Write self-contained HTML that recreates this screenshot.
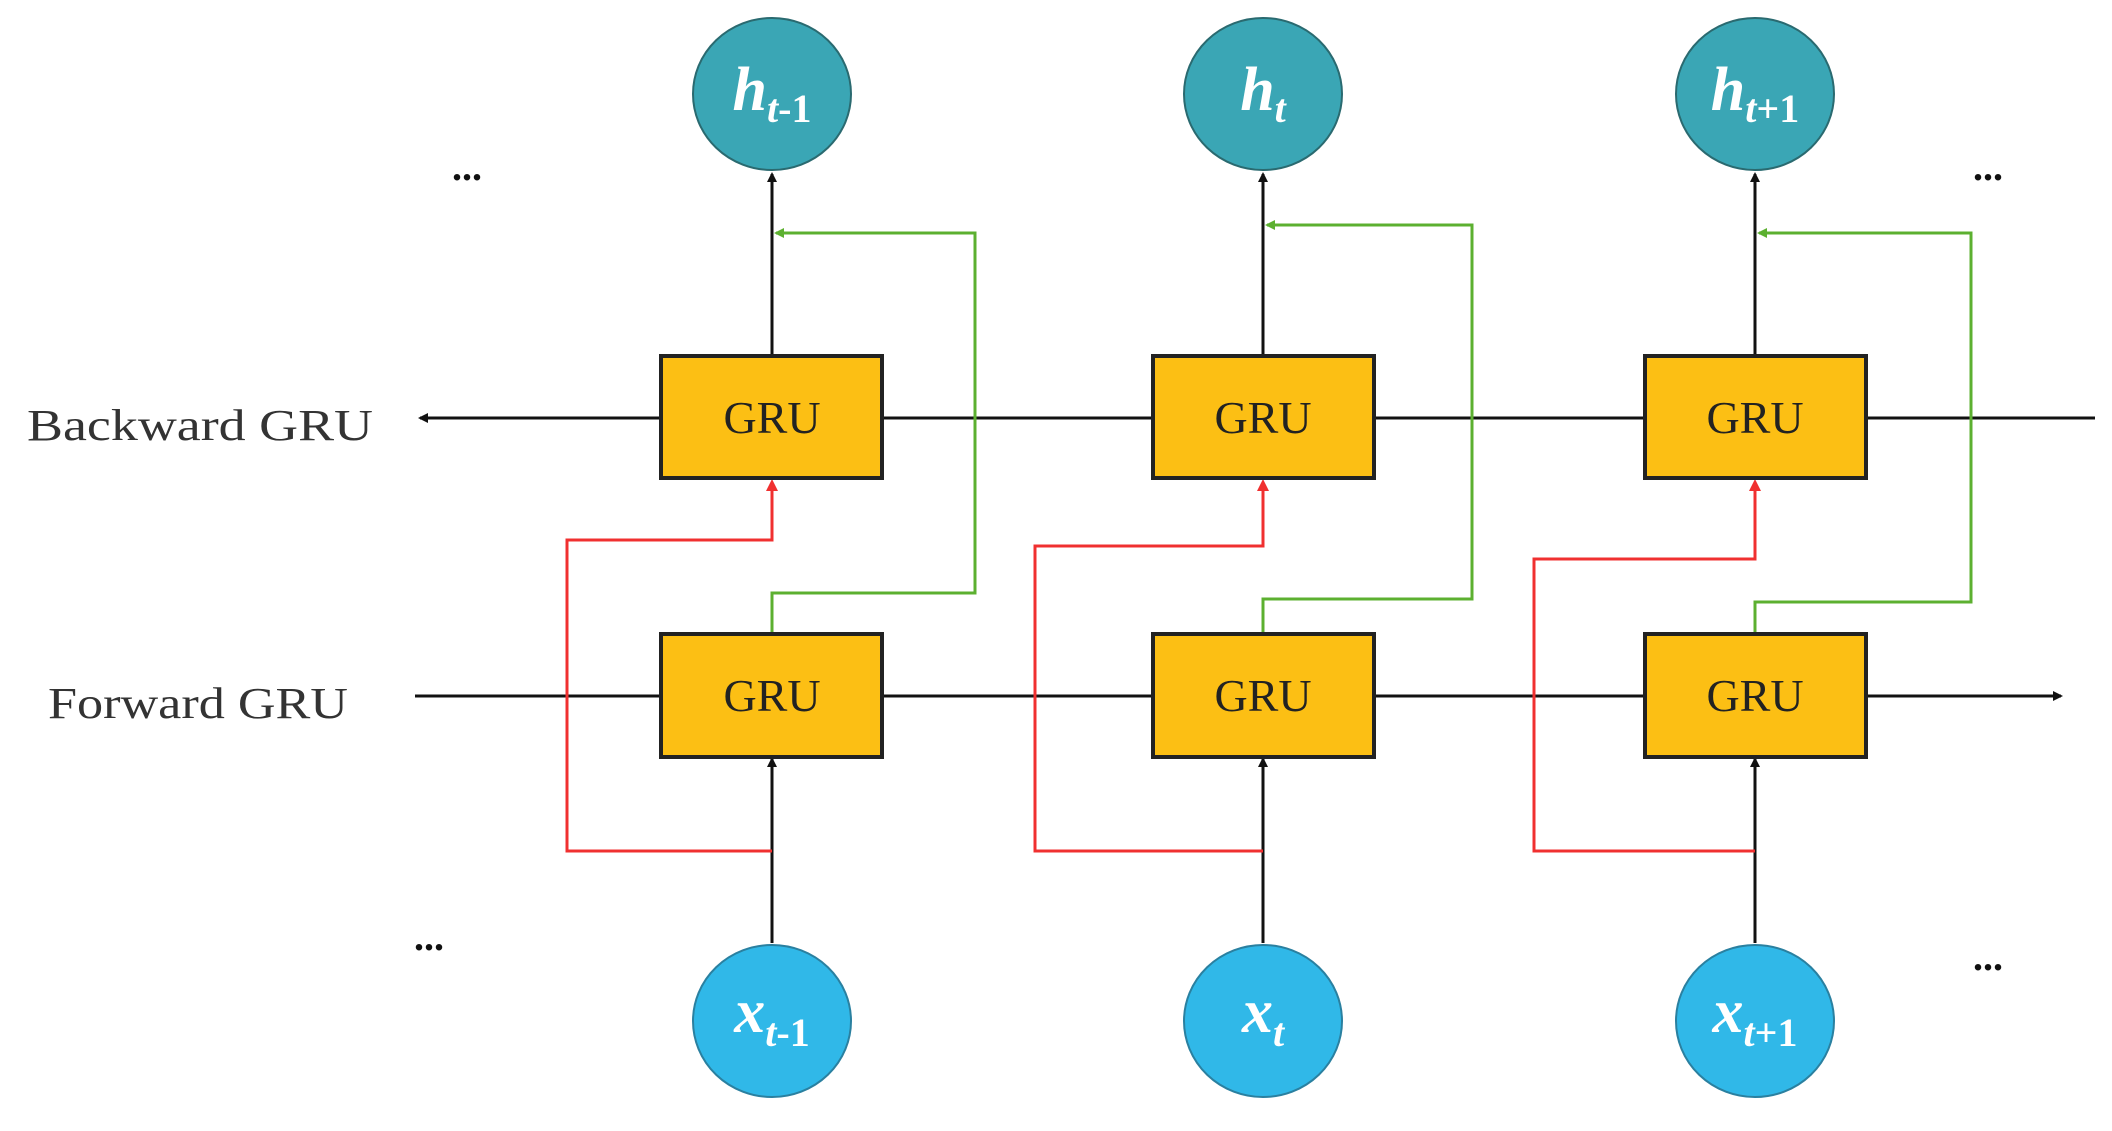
<!DOCTYPE html>
<html><head><meta charset="utf-8"><style>html,body{margin:0;padding:0;background:#fff}</style></head>
<body>
<svg width="2112" height="1126" viewBox="0 0 2112 1126" xmlns="http://www.w3.org/2000/svg" font-family="Liberation Serif, serif">
<defs>
<marker id="ak" markerWidth="10" markerHeight="10" refX="8" refY="5" orient="auto" markerUnits="userSpaceOnUse"><path d="M0,0 L10,5 L0,10 z" fill="#111"/></marker>
<marker id="ag" markerWidth="12" markerHeight="10" refX="8" refY="5" orient="auto" markerUnits="userSpaceOnUse"><path d="M0,0 L10,5 L0,10 z" fill="#5cb030"/></marker>
<marker id="ar" markerWidth="12" markerHeight="12" refX="9" refY="6" orient="auto" markerUnits="userSpaceOnUse"><path d="M0,0 L12,6 L0,12 z" fill="#f03030"/></marker>
</defs>
<g stroke="#111" stroke-width="3" fill="none">
<line x1="2095" y1="418" x2="420" y2="418" marker-end="url(#ak)"/>
<line x1="415" y1="696" x2="2061" y2="696" marker-end="url(#ak)"/>
<line x1="772" y1="356" x2="772" y2="174" marker-end="url(#ak)"/>
<line x1="1263" y1="356" x2="1263" y2="174" marker-end="url(#ak)"/>
<line x1="1755" y1="356" x2="1755" y2="174" marker-end="url(#ak)"/>
<line x1="772" y1="943" x2="772" y2="759" marker-end="url(#ak)"/>
<line x1="1263" y1="943" x2="1263" y2="759" marker-end="url(#ak)"/>
<line x1="1755" y1="943" x2="1755" y2="759" marker-end="url(#ak)"/>
</g>
<g stroke="#f03030" stroke-width="3" fill="none">
<polyline points="772,851 567,851 567,540 772,540 772,482" marker-end="url(#ar)"/>
<polyline points="1263,851 1035,851 1035,546 1263,546 1263,482" marker-end="url(#ar)"/>
<polyline points="1755,851 1534,851 1534,559 1755,559 1755,482" marker-end="url(#ar)"/>
</g>
<g stroke="#5cb030" stroke-width="3" fill="none">
<polyline points="772,633 772,593 975,593 975,233 776,233" marker-end="url(#ag)"/>
<polyline points="1263,633 1263,599 1472,599 1472,225 1267,225" marker-end="url(#ag)"/>
<polyline points="1755,633 1755,602 1971,602 1971,233 1759,233" marker-end="url(#ag)"/>
</g>
<g fill="#fcbf14" stroke="#222" stroke-width="4">
<rect x="661" y="356" width="221" height="122"/><rect x="1153" y="356" width="221" height="122"/><rect x="1645" y="356" width="221" height="122"/>
<rect x="661" y="634" width="221" height="123"/><rect x="1153" y="634" width="221" height="123"/><rect x="1645" y="634" width="221" height="123"/>
</g>
<g font-size="46" fill="#222" text-anchor="middle">
<text x="772" y="433">GRU</text><text x="1263" y="433">GRU</text><text x="1755" y="433">GRU</text>
<text x="772" y="711">GRU</text><text x="1263" y="711">GRU</text><text x="1755" y="711">GRU</text>
</g>
<g fill="#3aa6b5" stroke="#2a6a70" stroke-width="2">
<ellipse cx="772" cy="94" rx="79" ry="76"/><ellipse cx="1263" cy="94" rx="79" ry="76"/><ellipse cx="1755" cy="94" rx="79" ry="76"/>
</g>
<g fill="#30b8e8" stroke="#2a80a0" stroke-width="2">
<ellipse cx="772" cy="1021" rx="79" ry="76"/><ellipse cx="1263" cy="1021" rx="79" ry="76"/><ellipse cx="1755" cy="1021" rx="79" ry="76"/>
</g>
<g fill="#fff" font-weight="bold" font-style="italic" text-anchor="middle">
<text x="772" y="110" font-size="62">h<tspan font-size="40" dy="12">t</tspan><tspan font-size="40" font-style="normal">-1</tspan></text>
<text x="1263" y="110" font-size="62">h<tspan font-size="40" dy="12">t</tspan></text>
<text x="1755" y="110" font-size="62">h<tspan font-size="40" dy="12">t</tspan><tspan font-size="40" font-style="normal">+1</tspan></text>
<text x="772" y="1032" font-size="62">x<tspan font-size="40" dy="14">t</tspan><tspan font-size="40" font-style="normal">-1</tspan></text>
<text x="1263" y="1032" font-size="62">x<tspan font-size="40" dy="14">t</tspan></text>
<text x="1755" y="1032" font-size="62">x<tspan font-size="40" dy="14">t</tspan><tspan font-size="40" font-style="normal">+1</tspan></text>
</g>
<g fill="#333" font-size="44">
<text x="27" y="440" textLength="346" lengthAdjust="spacingAndGlyphs">Backward  GRU</text>
<text x="48" y="718" textLength="300" lengthAdjust="spacingAndGlyphs">Forward GRU</text>
</g>
<g fill="#111" font-size="40" font-weight="bold">
<text x="452" y="180">...</text><text x="1973" y="180">...</text>
<text x="414" y="950">...</text><text x="1973" y="970">...</text>
</g>
</svg>
</body></html>
